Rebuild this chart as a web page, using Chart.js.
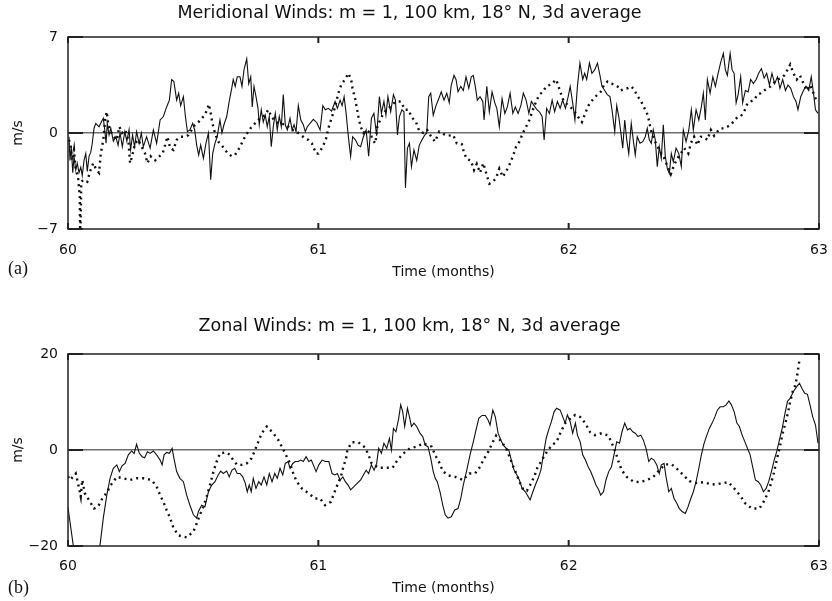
<!DOCTYPE html>
<html>
<head>
<meta charset="utf-8">
<script src="https://cdn.jsdelivr.net/npm/chart.js@4.4.1/dist/chart.umd.min.js"></script>
<style>
  body { margin: 0; background: #fff; }
  #pagina { position: relative; width: 832px; height: 601px; }
  canvas { position: absolute; left: 0; }
  .letra { position: absolute; left: 8px; font: 18px "Liberation Serif", serif; color: #111; }
</style>
</head>
<body>
<div id="pagina">
  <canvas id="meridional" width="832" height="300" style="top:0"></canvas>
  <canvas id="zonal" width="832" height="301" style="top:300px"></canvas>
  <div class="letra" style="top:258px">(a)</div>
  <div class="letra" style="top:577px">(b)</div>
</div>
<script>
const meses = [60, 61, 62, 63];
const merTicks = [-7, 0, 7];
const zonTicks = [-20, 0, 20];

// meridional, linha cheia
const merCheioT = [
  60.004, 60.008, 60.013, 60.019, 60.024, 60.031, 60.037, 60.044, 60.051, 60.057, 60.064, 60.071,
  60.077, 60.084, 60.091, 60.097, 60.104, 60.111, 60.124, 60.133, 60.141, 60.147, 60.152, 60.157,
  60.164, 60.171, 60.181, 60.191, 60.200, 60.208, 60.217, 60.227, 60.235, 60.244, 60.250, 60.258,
  60.266, 60.274, 60.284, 60.293, 60.301, 60.314, 60.328, 60.341, 60.354, 60.368, 60.381, 60.394,
  60.405, 60.414, 60.423, 60.434, 60.442, 60.450, 60.461, 60.469, 60.477, 60.487, 60.498, 60.506,
  60.514, 60.522, 60.530, 60.541, 60.551, 60.561, 60.570, 60.578, 60.587, 60.596, 60.607, 60.615,
  60.623, 60.634, 60.644, 60.654, 60.660, 60.668, 60.676, 60.687, 60.695, 60.703, 60.714, 60.722,
  60.730, 60.736, 60.743, 60.751, 60.759, 60.764, 60.772, 60.780, 60.788, 60.796, 60.804, 60.812,
  60.820, 60.828, 60.836, 60.844, 60.852, 60.860, 60.868, 60.876, 60.887, 60.895, 60.903, 60.911,
  60.920, 60.930, 60.940, 60.948, 60.956, 60.980, 60.994, 61.007, 61.018, 61.028, 61.040, 61.053,
  61.067, 61.076, 61.087, 61.095, 61.103, 61.111, 61.120, 61.129, 61.137, 61.148, 61.159, 61.169,
  61.180, 61.191, 61.201, 61.212, 61.222, 61.233, 61.244, 61.252, 61.262, 61.270, 61.278, 61.289,
  61.300, 61.308, 61.316, 61.324, 61.334, 61.342, 61.348, 61.356, 61.364, 61.372, 61.382, 61.393,
  61.403, 61.414, 61.425, 61.433, 61.441, 61.449, 61.459, 61.470, 61.481, 61.491, 61.502, 61.513,
  61.523, 61.531, 61.542, 61.550, 61.558, 61.569, 61.579, 61.590, 61.601, 61.611, 61.619, 61.627,
  61.635, 61.646, 61.657, 61.662, 61.673, 61.683, 61.694, 61.705, 61.713, 61.723, 61.734, 61.745,
  61.755, 61.766, 61.777, 61.787, 61.798, 61.809, 61.819, 61.830, 61.841, 61.851, 61.862, 61.873,
  61.883, 61.894, 61.902, 61.912, 61.923, 61.934, 61.944, 61.955, 61.966, 61.976, 61.987, 61.998,
  62.006, 62.016, 62.025, 62.035, 62.045, 62.056, 62.064, 62.072, 62.083, 62.093, 62.104, 62.115,
  62.125, 62.133, 62.144, 62.154, 62.165, 62.173, 62.184, 62.192, 62.200, 62.208, 62.216, 62.224,
  62.232, 62.240, 62.250, 62.258, 62.266, 62.274, 62.285, 62.296, 62.306, 62.314, 62.322, 62.330,
  62.338, 62.346, 62.354, 62.362, 62.370, 62.378, 62.386, 62.394, 62.402, 62.410, 62.418, 62.429,
  62.440, 62.450, 62.458, 62.469, 62.480, 62.490, 62.498, 62.509, 62.520, 62.530, 62.538, 62.546,
  62.554, 62.565, 62.576, 62.586, 62.597, 62.608, 62.618, 62.626, 62.634, 62.645, 62.653, 62.661,
  62.669, 62.677, 62.687, 62.695, 62.706, 62.717, 62.727, 62.738, 62.749, 62.759, 62.770, 62.781,
  62.791, 62.802, 62.812, 62.823, 62.834, 62.844, 62.855, 62.866, 62.876, 62.887, 62.898, 62.908,
  62.916, 62.927, 62.938, 62.948, 62.959, 62.969, 62.978, 62.986, 62.996
];
const merCheioV = [
  -0.27, -2.0, -1.0, -2.9, -1.7, -2.7, -2.2, -2.9, -2.5, -3.1, -2.0, -1.5,
  -2.8, -1.7, -1.4, -0.75, 0.35, 0.7, 0.45, 0.8, 1.07, 0.2, -0.75, 0.7,
  -0.15, 0.35, -0.6, -0.27, -0.9, 0, -1.0, 0.1, -0.6, 0.25, -1.24, -0.15,
  -1.0, 0.1, -0.75, 0, -1.0, -0.27, -1.1, 0.22, -0.75, 0.95, 1.2, 1.9,
  2.4, 3.9, 3.75, 2.4, 2.9, 2.0, 2.65, 1.2, 0.1, 0.22, 0.7, 0.22,
  -0.88, -1.6, -0.88, -1.85, -0.75, 0, -3.4, -1.5, -0.75, -0.27, 0.95, 0,
  0.6, 1.2, 2.3, 3.26, 3.9, 3.4, 4.1, 4.1, 3.4, 4.6, 5.4, 3.6,
  4.1, 1.9, 3.4, 2.65, 1.8, 0.6, 1.7, 0.8, 1.3, 0.46, 1.2, -1.0,
  0.46, 1.43, 0.22, 1.2, 0.46, 2.8, 0.6, 0.22, 1.07, 0.22, 0.6, 0.1,
  2.0, 0.95, 0.6, 0.1, 0.46, 1.0, 0.75, 0.22, 2.0, 1.7, 1.8, 1.6,
  2.3, 1.8, 2.4, 2.0, 2.65, 1.43, -0.27, -1.7, -0.27, -0.5, -0.9, -1.0,
  -0.27, 0.22, -1.7, 1.07, 1.43, -0.2, 2.65, 1.43, 2.3, 1.3, 2.65, 1.55,
  2.8, 2.4, -0.15, 1.2, 1.7, 1.55, -4.0, -1.1, -0.75, -2.45, -1.24, -2.0,
  -0.9, -0.5, -0.15, 0, 2.65, 2.9, 1.3, 2.0, 2.5, 3.0, 2.4, 2.9,
  2.2, 3.5, 4.2, 3.9, 3.0, 3.4, 3.1, 4.1, 3.26, 4.1, 4.2, 3.4,
  2.4, 2.65, 2.3, 0.95, 3.4, 1.55, 3.0, 2.2, 1.8, 0.46, 2.5, 1.43,
  1.9, 2.9, 1.43, 1.9, 1.43, 2.0, 2.9, 2.4, 1.43, 2.3, 2.0, 1.7,
  1.55, 1.2, -0.5, 1.8, 1.43, 2.4, 1.55, 2.3, 1.8, 2.4, 1.8, 2.65,
  3.4, 2.2, 0.95, 3.4, 5.1, 3.9, 4.35, 3.9, 5.1, 4.35, 4.6, 5.1,
  4.2, 3.4, 3.1, 2.8, 2.65, 1.7, 0.1, 2.0, 1.2, 0.1, -1.1, 0.95,
  -0.5, -1.5, 0.7, -0.5, -1.6, -0.27, -0.75, -0.63, -0.27, 0.34, -0.5, -0.75,
  0.22, -0.5, -2.45, -1.0, -1.85, 0.6, -1.7, -2.6, -2.95, -1.5, -2.1, -1.1,
  -1.5, -2.45, 0.22, -0.63, 0.22, 1.7, 0.22, 1.7, 0.95, 1.9, 2.9, 0.95,
  3.9, 2.9, 4.1, 3.4, 4.35, 5.2, 5.8, 4.6, 4.2, 5.8, 4.6, 4.35,
  2.2, 2.8, 4.1, 2.2, 3.1, 3.0, 3.9, 3.6, 3.9, 4.35, 4.7, 4.0,
  4.35, 3.5, 4.35, 3.6, 4.1, 3.26, 3.9, 3.1, 3.5, 3.26, 2.65, 2.3,
  1.7, 2.65, 3.1, 3.4, 3.1, 4.1, 2.9, 1.7, 1.43
];

// meridional, pontilhada
const merPontT = [
  60.004, 60.011, 60.017, 60.024, 60.031, 60.040, 60.047, 60.049, 60.053, 60.064, 60.077, 60.088,
  60.101, 60.111, 60.124, 60.131, 60.141, 60.149, 60.155, 60.160, 60.168, 60.181, 60.195, 60.205,
  60.216, 60.229, 60.241, 60.248, 60.256, 60.268, 60.281, 60.294, 60.308, 60.317, 60.330, 60.348,
  60.365, 60.378, 60.388, 60.397, 60.408, 60.421, 60.434, 60.450, 60.467, 60.481, 60.494, 60.507,
  60.521, 60.534, 60.547, 60.557, 60.563, 60.570, 60.577, 60.587, 60.600, 60.614, 60.627, 60.640,
  60.654, 60.667, 60.680, 60.694, 60.707, 60.720, 60.734, 60.747, 60.760, 60.774, 60.787, 60.800,
  60.814, 60.827, 60.840, 60.854, 60.867, 60.880, 60.894, 60.907, 60.920, 60.934, 60.947, 60.960,
  60.974, 60.991, 61.000, 61.018, 61.031, 61.040, 61.054, 61.067, 61.080, 61.093, 61.107, 61.120,
  61.131, 61.137, 61.147, 61.153, 61.160, 61.169, 61.180, 61.193, 61.207, 61.217, 61.228, 61.236,
  61.247, 61.260, 61.273, 61.286, 61.300, 61.313, 61.329, 61.346, 61.360, 61.373, 61.390, 61.404,
  61.420, 61.435, 61.449, 61.466, 61.483, 61.499, 61.519, 61.539, 61.553, 61.573, 61.582, 61.593,
  61.609, 61.622, 61.633, 61.646, 61.659, 61.670, 61.683, 61.697, 61.710, 61.723, 61.737, 61.750,
  61.763, 61.777, 61.790, 61.803, 61.817, 61.830, 61.843, 61.857, 61.870, 61.883, 61.897, 61.910,
  61.923, 61.937, 61.950, 61.963, 61.976, 61.990, 61.999, 62.019, 62.039, 62.053, 62.066, 62.079,
  62.099, 62.115, 62.128, 62.141, 62.155, 62.168, 62.181, 62.195, 62.208, 62.221, 62.235, 62.248,
  62.261, 62.274, 62.288, 62.301, 62.312, 62.321, 62.328, 62.341, 62.354, 62.368, 62.381, 62.394,
  62.408, 62.421, 62.434, 62.448, 62.461, 62.478, 62.488, 62.501, 62.514, 62.528, 62.541, 62.554,
  62.568, 62.581, 62.594, 62.608, 62.621, 62.634, 62.648, 62.661, 62.674, 62.688, 62.701, 62.714,
  62.727, 62.741, 62.754, 62.767, 62.781, 62.794, 62.807, 62.821, 62.834, 62.847, 62.861, 62.874,
  62.885, 62.898, 62.911, 62.924, 62.938, 62.951, 62.964, 62.978, 62.991
];
const merPontV = [
  -0.5, -1.0, -2.0, -1.24, -2.7, -3.2, -4.6, -8.0, -3.55, -3.4, -3.55, -2.8,
  -2.2, -2.6, -2.9, -1.5, -0.5, 1.07, 1.55, 0.7, 0.22, -0.27, -0.5, 0.46,
  0, 0.22, -0.5, -2.2, -1.7, -0.75, -0.5, -1.0, -1.5, -2.2, -1.7, -2.0,
  -1.7, -1.5, -0.88, -0.27, -1.1, -1.24, -0.5, -0.27, -0.27, -0.15, 0.22, 0.6,
  0.8, 1.07, 1.3, 1.8, 2.1, 1.43, 0.7, 0, -0.63, -0.88, -1.24, -1.5,
  -1.7, -1.6, -1.24, -0.75, -0.27, 0.1, 0.46, 0.7, 0.95, 1.15, 1.3, 1.7,
  1.15, 0.9, 0.7, 0.65, 0.65, 0.46, 0.22, 0.17, 0, -0.2, -0.4, -0.5,
  -0.75, -1.5, -1.5, -1.0, -0.4, 0.34, 1.15, 1.9, 2.9, 3.6, 3.9, 4.35,
  3.9, 3.2, 2.5, 1.9, 1.2, 0.46, 0, 0.22, 0, -0.5, -0.75, 0.46,
  0.95, 1.43, 1.7, 1.9, 2.15, 2.3, 2.3, 1.7, 1.7, 1.15, 0.8, 0.1,
  0, 0.22, -0.2, -0.63, 0.1, -0.07, -0.2, -0.15, -0.75, -0.8, -1.43, -1.9,
  -2.0, -2.7, -2.25, -2.9, -2.2, -2.9, -3.7, -3.55, -3.3, -2.6, -3.2, -2.8,
  -2.35, -1.7, -1.0, -0.63, 0, 0.46, 0.95, 1.7, 2.3, 2.8, 3.0, 3.4,
  3.5, 3.67, 3.9, 3.2, 2.5, 2.15, 2.0, 1.7, 1.15, 0.8, 1.43, 2.0,
  2.5, 2.8, 3.0, 3.5, 3.75, 3.6, 3.55, 3.4, 3.1, 3.2, 3.26, 3.4,
  3.2, 2.7, 2.36, 1.87, 1.5, 0.9, 0.22, -0.46, -0.95, -1.43, -1.8, -2.4,
  -3.0, -2.35, -1.85, -1.5, -1.1, -1.5, -0.75, -0.27, -0.88, -0.27, -0.3, -0.5,
  0.22, -0.2, 0.1, 0.34, 0.34, 0.46, 0.6, 0.9, 1.15, 1.24, 1.55, 2.15,
  2.3, 2.4, 2.8, 2.9, 3.1, 3.26, 3.4, 3.67, 3.9, 4.0, 4.2, 4.6,
  5.0, 4.35, 3.9, 4.2, 3.6, 3.1, 3.5, 2.9, 2.3
];

// zonal, linha cheia
const zonCheioT = [
  60.000, 60.024, 60.120, 60.128, 60.141, 60.155, 60.168, 60.181, 60.195, 60.205, 60.216, 60.228,
  60.241, 60.254, 60.264, 60.274, 60.285, 60.296, 60.306, 60.317, 60.328, 60.341, 60.354, 60.368,
  60.376, 60.384, 60.394, 60.405, 60.416, 60.423, 60.434, 60.447, 60.461, 60.474, 60.487, 60.501,
  60.514, 60.521, 60.534, 60.547, 60.561, 60.574, 60.587, 60.600, 60.610, 60.620, 60.634, 60.644,
  60.655, 60.666, 60.676, 60.687, 60.698, 60.708, 60.716, 60.724, 60.732, 60.740, 60.751, 60.762,
  60.772, 60.783, 60.794, 60.804, 60.815, 60.826, 60.836, 60.847, 60.858, 60.868, 60.879, 60.887,
  60.898, 60.908, 60.919, 60.930, 60.940, 60.951, 60.962, 60.972, 60.980, 60.991, 61.002, 61.015,
  61.028, 61.042, 61.055, 61.066, 61.076, 61.087, 61.098, 61.108, 61.119, 61.129, 61.143, 61.156,
  61.169, 61.180, 61.191, 61.201, 61.212, 61.223, 61.233, 61.241, 61.252, 61.262, 61.273, 61.284,
  61.292, 61.300, 61.310, 61.321, 61.329, 61.337, 61.345, 61.356, 61.364, 61.372, 61.382, 61.393,
  61.406, 61.417, 61.427, 61.438, 61.449, 61.459, 61.467, 61.475, 61.486, 61.497, 61.507, 61.518,
  61.531, 61.545, 61.558, 61.569, 61.579, 61.593, 61.606, 61.619, 61.630, 61.641, 61.654, 61.667,
  61.678, 61.686, 61.697, 61.707, 61.718, 61.729, 61.739, 61.750, 61.761, 61.771, 61.782, 61.793,
  61.803, 61.814, 61.827, 61.838, 61.846, 61.857, 61.867, 61.878, 61.889, 61.899, 61.910, 61.920,
  61.931, 61.942, 61.952, 61.966, 61.986, 61.995, 62.006, 62.016, 62.027, 62.035, 62.046, 62.056,
  62.067, 62.078, 62.088, 62.099, 62.109, 62.120, 62.128, 62.139, 62.149, 62.160, 62.171, 62.181,
  62.192, 62.203, 62.213, 62.224, 62.235, 62.245, 62.256, 62.266, 62.277, 62.288, 62.298, 62.309,
  62.320, 62.330, 62.341, 62.352, 62.362, 62.370, 62.381, 62.389, 62.400, 62.410, 62.421, 62.432,
  62.442, 62.453, 62.466, 62.477, 62.488, 62.498, 62.509, 62.520, 62.530, 62.541, 62.552, 62.562,
  62.573, 62.584, 62.594, 62.605, 62.618, 62.629, 62.640, 62.650, 62.661, 62.672, 62.682, 62.693,
  62.704, 62.714, 62.725, 62.735, 62.746, 62.757, 62.767, 62.778, 62.789, 62.799, 62.810, 62.821,
  62.831, 62.842, 62.853, 62.863, 62.874, 62.885, 62.898, 62.911, 62.922, 62.932, 62.943, 62.954,
  62.964, 62.975, 62.986, 62.996
];
const zonCheioV = [
  -12.0, -21, -21, -19.8, -14.2, -9.4, -5.9, -3.8, -3.1, -4.5, -3.3, -2.8,
  -1.0, -0.2, -0.7, 1.2, -0.7, -1.4, -1.6, -0.35, -0.7, -0.2, -1.0, -2.1,
  -3.1, -1.0, -0.5, -0.7, 0.35, -1.7, -4.5, -5.9, -6.6, -9.4, -11.5, -13.5,
  -14.2, -12.8, -11.5, -11.8, -8.7, -7.3, -6.6, -5.2, -4.4, -4.9, -4.4, -5.6,
  -4.2, -3.8, -4.9, -4.9, -5.6, -6.9, -8.7, -7.3, -8.7, -5.9, -8.0, -6.6,
  -7.3, -5.6, -7.3, -4.9, -6.6, -4.9, -5.9, -3.8, -5.2, -2.8, -2.4, -3.8,
  -2.8, -2.4, -2.4, -2.1, -2.4, -1.4, -2.4, -2.1, -3.1, -4.5, -3.1, -2.1,
  -2.4, -2.4, -4.9, -5.2, -4.9, -6.25, -5.6, -6.6, -7.3, -8.3, -7.6, -6.9,
  -6.25, -5.2, -4.2, -4.9, -3.1, -4.2, -2.8, 0.35, -0.7, 1.4, 0.35, 2.4,
  0, 4.5, 3.8, 6.6, 9.4, 8.0, 4.9, 8.7, 6.9, 4.9, 5.6, 4.9,
  3.5, 2.8, 1.0, 0.7, -1.7, -4.5, -5.9, -6.6, -8.7, -11.5, -13.5, -14.2,
  -13.9, -12.5, -12.2, -10.1, -7.3, -4.2, -1.0, 1.7, 4.2, 6.6, 7.2, 7.2,
  6.25, 5.2, 8.3, 6.9, 3.5, 2.1, 1.0, 0.35, 0, -2.1, -4.2, -5.2,
  -6.25, -8.0, -8.7, -9.7, -10.4, -8.7, -7.3, -5.9, -4.2, -1.0, 2.4, 4.2,
  5.9, 8.0, 8.7, 8.3, 5.6, 7.3, 5.9, 3.5, 5.6, 3.1, 1.7, -1.0,
  -2.1, -3.5, -4.5, -5.9, -7.3, -8.3, -9.4, -8.7, -6.25, -4.5, -3.5, -1.0,
  1.7, 1.4, 3.8, 5.6, 4.2, 4.5, 3.8, 3.5, 2.8, 3.1, 2.1, 0.35,
  -2.4, -1.7, -2.1, -3.1, -4.9, -3.1, -2.8, -5.6, -8.7, -8.0, -10.1, -11.1,
  -12.2, -12.8, -13.2, -11.8, -10.1, -8.7, -6.6, -3.8, -1.0, 1.4, 3.1, 4.5,
  5.6, 6.9, 8.3, 9.0, 9.0, 9.4, 10.2, 9.4, 8.0, 5.6, 4.9, 3.1,
  1.7, 0.35, -1.0, -3.5, -6.25, -6.6, -7.3, -8.7, -8.0, -6.6, -4.5, -2.1,
  -0.35, 2.1, 4.5, 7.3, 10.1, 10.8, 12.2, 13.2, 13.9, 12.8, 11.8, 11.6,
  9.4, 6.9, 5.2, 1.4
];

// zonal, pontilhada
const zonPontT = [
  60.000, 60.008, 60.031, 60.040, 60.051, 60.057, 60.067, 60.088, 60.104, 60.120, 60.137, 60.157,
  60.171, 60.195, 60.221, 60.248, 60.274, 60.301, 60.334, 60.354, 60.368, 60.381, 60.394, 60.408,
  60.421, 60.441, 60.474, 60.501, 60.514, 60.527, 60.541, 60.554, 60.567, 60.581, 60.594, 60.607,
  60.631, 60.647, 60.660, 60.676, 60.694, 60.714, 60.734, 60.747, 60.760, 60.774, 60.794, 60.820,
  60.840, 60.854, 60.874, 60.887, 60.900, 60.914, 60.934, 60.960, 60.987, 61.007, 61.027, 61.050,
  61.063, 61.076, 61.090, 61.100, 61.111, 61.116, 61.133, 61.160, 61.187, 61.200, 61.213, 61.240,
  61.266, 61.297, 61.316, 61.340, 61.366, 61.393, 61.420, 61.435, 61.453, 61.466, 61.483, 61.497,
  61.519, 61.546, 61.577, 61.603, 61.626, 61.646, 61.659, 61.679, 61.693, 61.710, 61.733, 61.753,
  61.766, 61.779, 61.793, 61.806, 61.819, 61.833, 61.846, 61.862, 61.875, 61.893, 61.913, 61.933,
  61.952, 61.968, 61.986, 62.006, 62.026, 62.046, 62.066, 62.086, 62.105, 62.132, 62.159, 62.176,
  62.189, 62.199, 62.212, 62.232, 62.259, 62.285, 62.314, 62.338, 62.362, 62.385, 62.412, 62.434,
  62.458, 62.482, 62.512, 62.538, 62.572, 62.605, 62.638, 62.658, 62.685, 62.705, 62.732, 62.762,
  62.781, 62.798, 62.818, 62.831, 62.845, 62.855, 62.866, 62.877, 62.885, 62.895, 62.903, 62.911,
  62.916, 62.922
];
const zonPontV = [
  -5.5, -6.25, -4.9, -6.9, -9.7, -6.25, -9.0, -10.8, -12.2, -11.8, -10.1, -8.7,
  -7.3, -5.6, -5.9, -6.25, -5.9, -5.9, -6.25, -7.6, -9.4, -10.8, -12.5, -14.2,
  -16.2, -17.8, -18.2, -17.0, -15.3, -13.5, -11.8, -9.7, -7.3, -4.5, -2.4, -0.7,
  -0.5, -1.0, -2.1, -3.1, -3.1, -2.8, -1.7, 0, 1.7, 3.5, 4.9, 3.5,
  2.1, 0.7, -1.4, -2.8, -4.9, -6.6, -8.0, -9.0, -10.1, -10.1, -11.5, -10.8,
  -9.0, -7.3, -5.6, -3.5, -1.7, 0, 1.6, 1.6, 0.5, -1.0, -2.8, -3.7,
  -3.7, -3.7, -2.1, -0.7, 0.35, 0.7, 1.4, 1.0, 0.7, -1.0, -2.6, -4.4,
  -5.3, -5.6, -6.25, -4.9, -4.9, -3.5, -2.1, -0.35, 1.25, 3.0, 1.7, 0,
  -1.7, -3.5, -5.2, -6.9, -8.3, -8.5, -7.3, -5.6, -3.7, -2.1, -0.35, 1.0,
  1.7, 3.7, 5.6, 6.5, 7.3, 6.9, 5.6, 3.7, 3.1, 3.5, 3.0, 1.0,
  -0.7, -2.4, -4.2, -5.6, -6.6, -6.7, -6.25, -5.6, -4.2, -3.0, -3.0, -4.0,
  -5.2, -6.5, -6.9, -6.7, -7.2, -7.0, -6.7, -7.8, -9.5, -11.1, -12.2, -12.2,
  -10.6, -8.7, -5.2, -2.1, 1.0, 3.5, 5.6, 8.0, 10.1, 12.2, 13.2, 14.9,
  16.7, 18.8
];

const pares = (t, v) => t.map((x, i) => ({ x, y: v[i] }));
const menos = v => v < 0 ? "\u2212" + Math.abs(v) : String(v);

Chart.defaults.font.family = "'DejaVu Sans', sans-serif";
Chart.defaults.color = "#111";

// moldura do gráfico e marcas de escala viradas para dentro
const moldura = {
  id: "moldura",
  afterDatasetsDraw(chart) {
    const { ctx, chartArea: a, scales: { x, y } } = chart;
    ctx.save();
    ctx.strokeStyle = "#222";
    ctx.lineWidth = 1.5;
    ctx.strokeRect(a.left, a.top, a.right - a.left, a.bottom - a.top);
    ctx.lineWidth = 2;
    ctx.beginPath();
    x.ticks.forEach(t => {
      const px = x.getPixelForValue(t.value);
      ctx.moveTo(px, a.bottom); ctx.lineTo(px, a.bottom - 6);
      ctx.moveTo(px, a.top); ctx.lineTo(px, a.top + 6);
    });
    y.ticks.forEach(t => {
      const py = y.getPixelForValue(t.value);
      ctx.moveTo(a.left, py); ctx.lineTo(a.left + 15, py);
      ctx.moveTo(a.right, py); ctx.lineTo(a.right - 15, py);
    });
    ctx.stroke();
    ctx.restore();
  }
};

function grafico(id, cfg) {
  return new Chart(document.getElementById(id), {
    type: "line",
    data: {
      datasets: [
        { data: pares(cfg.cheioT, cfg.cheioV), borderColor: "#111", borderWidth: 1.1, pointRadius: 0 },
        { data: pares(cfg.pontT, cfg.pontV), borderColor: "#111", borderWidth: 2.4, borderDash: [2, 4], pointRadius: 0 }
      ]
    },
    options: {
      responsive: false,
      animation: false,
      devicePixelRatio: 1,
      layout: { padding: { left: 0, right: 13, top: 0, bottom: 0 } },
      plugins: {
        legend: { display: false },
        tooltip: { enabled: false },
        title: { display: true, text: cfg.titulo, color: "#111", font: { size: 17.5, weight: "normal" }, padding: cfg.tituloPad }
      },
      scales: {
        x: {
          type: "linear", min: 60, max: 63,
          afterFit: s => { s.height = cfg.alturaX; s.paddingLeft = 0; s.paddingRight = 0; },
          afterBuildTicks: s => { s.ticks = meses.map(v => ({ value: v })); },
          grid: { display: false, drawTicks: false },
          border: { display: false },
          ticks: { padding: cfg.ticksXPad, maxRotation: 0, font: { size: 14 } },
          title: { display: true, text: "Time (months)", font: { size: 14 }, padding: { top: 0, bottom: cfg.tituloXPad } }
        },
        y: {
          min: cfg.ticksY[0], max: cfg.ticksY[cfg.ticksY.length - 1],
          afterFit: s => { s.width = 68; },
          afterBuildTicks: s => { s.ticks = cfg.ticksY.map(v => ({ value: v })); },
          grid: {
            drawTicks: false, lineWidth: 1.5,
            color: c => c.tick && c.tick.value === 0 ? "#6e6e6e" : "rgba(0,0,0,0)"
          },
          border: { display: false },
          ticks: { padding: 10, font: { size: 14 }, callback: menos },
          title: { display: true, text: "m/s", font: { size: 14 }, padding: { top: 10, bottom: 0 } }
        }
      }
    },
    plugins: [moldura]
  });
}

grafico("meridional", {
  titulo: "Meridional Winds: m = 1, 100 km, 18\u00b0 N, 3d average",
  tituloPad: { top: 3, bottom: 13 },
  alturaX: 71, tituloXPad: 19, ticksXPad: 13,
  ticksY: merTicks,
  cheioT: merCheioT, cheioV: merCheioV,
  pontT: merPontT, pontV: merPontV
});

grafico("zonal", {
  titulo: "Zonal Winds: m = 1, 100 km, 18\u00b0 N, 3d average",
  tituloPad: { top: 16, bottom: 17 },
  alturaX: 55, tituloXPad: 4, ticksXPad: 12,
  ticksY: zonTicks,
  cheioT: zonCheioT, cheioV: zonCheioV,
  pontT: zonPontT, pontV: zonPontV
});
</script>
</body>
</html>
